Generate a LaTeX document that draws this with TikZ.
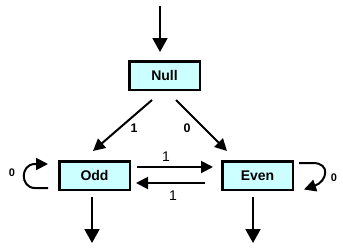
\documentclass[tikz,border=0pt]{standalone}
\usepackage{fontspec}
\setmainfont{Liberation Sans}
\usetikzlibrary{arrows.meta}
\definecolor{boxfill}{HTML}{CCFFFF}
\begin{document}
\begin{tikzpicture}[x=1pt,y=-1pt,
  state/.style={draw=black,line width=2.5pt,fill=boxfill,minimum width=70.5pt,minimum height=28.5pt,inner sep=0pt,font=\fontsize{14}{15}\selectfont\bfseries},
  arr/.style={line width=2pt,-{Triangle[length=12pt,width=12pt]}},
  bigarr/.style={line width=2pt,-{Triangle[length=14pt,width=15pt]}},
  lbl/.style={inner sep=0pt,font=\fontsize{12.5}{13}\selectfont\bfseries},
  lblm/.style={inner sep=0pt,font=\fontsize{14}{15}\selectfont},
  lbls/.style={inner sep=0pt,font=\fontsize{11}{12}\selectfont\bfseries}]
\useasboundingbox (0,0) rectangle (343,250);
\fill[white] (0,0) rectangle (343,250);
\node[state] (null) at (164.5,75.5) {Null};
\node[state] (odd) at (94.5,175.5) {Odd};
\node[state] (even) at (257.5,175.5) {Even};
\coordinate (start) at (160,6);
\coordinate (oddout) at (92,243);
\coordinate (evenout) at (253,243);
% entry arrow
\draw[bigarr] (start) -- ([xshift=-4.5pt,yshift=8pt]null.north);
% Null to Odd / Even
\draw[arr] ([xshift=-12.5pt,yshift=-9pt]null.south) -- ([xshift=-1.5pt,yshift=9pt]odd.north);
\draw[arr] ([xshift=11.5pt,yshift=-9pt]null.south) -- ([xshift=6pt,yshift=9pt]even.north west);
\node[lbl] (l1) at (134,128) {1};
\node[lbl] (l0) at (187,128) {0};
% Odd <-> Even
\draw[arr] ([xshift=6pt,yshift=8.5pt]odd.east) -- ([xshift=-8pt,yshift=8.5pt]even.west);
\draw[arr] ([xshift=-16pt,yshift=-7.5pt]even.west) -- ([xshift=5pt,yshift=-7.5pt]odd.east);
\node[lblm] (m1) at (166,157) {1};
\node[lblm] (m2) at (173,196) {1};
% self loops
\draw[arr] ([xshift=-10pt,yshift=-12.5pt]odd.west) -- ++(-13,0) .. controls +(-15,0) and +(-15,0) .. ++(0,-24) -- ([xshift=-10pt,yshift=11.5pt]odd.west);
\node[lbls] (s0) at (12,173) {0};
\draw[arr] ([xshift=5pt,yshift=12.5pt]even.east) -- ++(14,0) .. controls +(18,0) and +(23,-8) .. ([xshift=10pt,yshift=-14pt]even.east);
\node[lbls] (s1) at (334,178) {0};
% exit arrows
\draw[bigarr] ([xshift=-2.5pt,yshift=-6pt]odd.south) -- (oddout);
\draw[bigarr] ([xshift=-4.5pt,yshift=-6pt]even.south) -- (evenout);
\end{tikzpicture}
\end{document}
